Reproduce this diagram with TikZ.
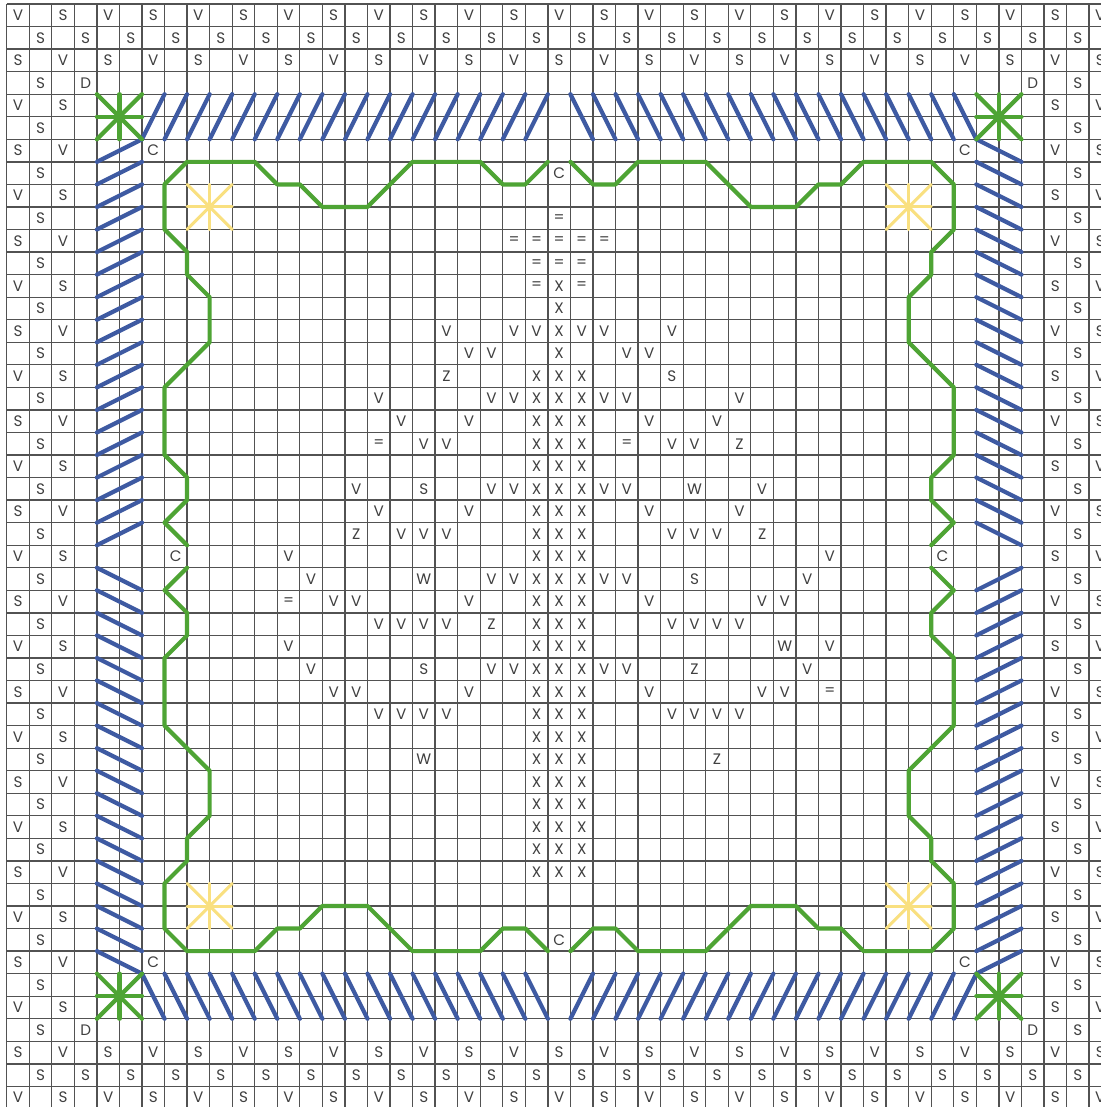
\documentclass[tikz,border=0pt]{standalone}
\usepackage{fontspec}
\setmainfont{Poppins}
\definecolor{stitchblue}{RGB}{62,90,162}
\definecolor{stitchgreen}{RGB}{78,164,52}
\definecolor{stitchyellow}{RGB}{249,224,128}
\newcommand{\sy}[3]{\node[sym] (s-#1-#2) at ({#1+0.5},{#2+0.5}) {#3};}
\newcommand{\quadpath}{\draw[greenst] (24,7) -- (23,8) -- (22,8) -- (21,7) -- (18,7) -- (16,9) -- (14,9) -- (13,8) -- (12,8) -- (11,7) -- (8,7) -- (7,8) -- (7,10) -- (8,11) -- (8,12) -- (9,13) -- (9,15) -- (7,17) -- (7,20) -- (8,21) -- (8,22) -- (7,23) -- (8,24);}
\begin{document}
\begin{tikzpicture}[x=11.275pt,y=-11.275pt,
  gridl/.style={draw=black!68, line width=0.65pt},
  bluest/.style={draw=stitchblue, line width=2.1pt, line cap=round},
  greenst/.style={draw=stitchgreen, line width=2.1pt, line cap=round, line join=round},
  yellowst/.style={draw=stitchyellow, line width=1.5pt, line cap=round},
  sym/.style={font=\fontsize{7.6}{8}\selectfont, text=black!75, inner sep=0pt, anchor=center}]
\useasboundingbox (-0.2971,-0.1774) rectangle (48.528,48.914);
\fill[white] (-0.2971,-0.1774) rectangle (48.528,48.914);
\begin{scope}
\clip (-0.2971,-0.1774) rectangle (48.528,48.914);
% grid
\foreach \i in {0,...,49} {
  \draw[gridl] (\i,0) -- (\i,49);
  \draw[gridl] (0,\i) -- (49,\i);
}
% blue border stitches
\foreach \k in {6,...,23} {
  \draw[bluest] (\k,6) -- (\k+1,4);
  \draw[bluest] (\k,43) -- (\k+1,45);
  \draw[bluest] (4,\k+1) -- (6,\k);
  \draw[bluest] (43,\k) -- (45,\k+1);
}
\foreach \k in {25,...,42} {
  \draw[bluest] (\k,4) -- (\k+1,6);
  \draw[bluest] (\k,45) -- (\k+1,43);
  \draw[bluest] (4,\k) -- (6,\k+1);
  \draw[bluest] (43,\k+1) -- (45,\k);
}
% green corner stars
\foreach \cx/\cy in {5/5,44/5,5/44,44/44} {
  \draw[greenst] (\cx-1,\cy) -- (\cx+1,\cy);
  \draw[greenst] (\cx,\cy-1) -- (\cx,\cy+1);
  \draw[greenst] (\cx-1,\cy-1) -- (\cx+1,\cy+1);
  \draw[greenst] (\cx-1,\cy+1) -- (\cx+1,\cy-1);
}
% yellow stars
\foreach \cx/\cy in {9/9,40/9,9/40,40/40} {
  \draw[yellowst] (\cx-1,\cy) -- (\cx+1,\cy);
  \draw[yellowst] (\cx,\cy-1) -- (\cx,\cy+1);
  \draw[yellowst] (\cx-1,\cy-1) -- (\cx+1,\cy+1);
  \draw[yellowst] (\cx-1,\cy+1) -- (\cx+1,\cy-1);
}
% green inner outline (four mirrored quarters)
\quadpath
\begin{scope}[shift={(49,0)},xscale=-1]\quadpath\end{scope}
\begin{scope}[shift={(0,49)},yscale=-1]\quadpath\end{scope}
\begin{scope}[shift={(49,49)},xscale=-1,yscale=-1]\quadpath\end{scope}
% outer letter border
\foreach \i in {0,4,...,48} { \sy{\i}{0}{V} \sy{\i}{48}{V} \sy{\i}{2}{S} \sy{\i}{46}{S} }
\foreach \i in {2,6,...,46} { \sy{\i}{0}{S} \sy{\i}{48}{S} \sy{\i}{2}{V} \sy{\i}{46}{V} }
\foreach \i in {1,3,...,47} { \sy{\i}{1}{S} \sy{\i}{47}{S} }
\foreach \i in {4,8,...,44} { \sy{0}{\i}{V} \sy{48}{\i}{V} \sy{2}{\i}{S} \sy{46}{\i}{S} }
\foreach \i in {6,10,...,42} { \sy{0}{\i}{S} \sy{48}{\i}{S} \sy{2}{\i}{V} \sy{46}{\i}{V} }
\foreach \i in {3,5,...,45} { \sy{1}{\i}{S} \sy{47}{\i}{S} }
% D and C marks
\foreach \c/\r in {3/3,45/3,3/45,45/45} { \sy{\c}{\r}{D} }
\foreach \c/\r in {6/6,42/6,24/7,7/24,41/24,24/41,6/42,42/42} { \sy{\c}{\r}{C} }
% central motif
\foreach \r in {16,...,38} { \foreach \c in {23,24,25} { \sy{\c}{\r}{X} } }
\foreach \c/\r/\t in {24/9/=, 22/10/=, 23/10/=, 24/10/=, 25/10/=, 26/10/=,
  23/11/=, 24/11/=, 25/11/=, 23/12/=, 24/12/X, 25/12/=, 24/13/X,
  19/14/V, 22/14/V, 23/14/V, 24/14/X, 25/14/V, 26/14/V, 29/14/V,
  20/15/V, 21/15/V, 24/15/X, 27/15/V, 28/15/V,
  19/16/Z, 29/16/S,
  16/17/V, 21/17/V, 22/17/V, 26/17/V, 27/17/V, 32/17/V,
  17/18/V, 20/18/V, 28/18/V, 31/18/V,
  16/19/=, 18/19/V, 19/19/V, 27/19/=, 29/19/V, 30/19/V, 32/19/Z,
  15/21/V, 18/21/S, 21/21/V, 22/21/V, 26/21/V, 27/21/V, 30/21/W, 33/21/V,
  16/22/V, 20/22/V, 28/22/V, 32/22/V,
  15/23/Z, 17/23/V, 18/23/V, 19/23/V, 29/23/V, 30/23/V, 31/23/V, 33/23/Z,
  12/24/V, 36/24/V,
  13/25/V, 18/25/W, 21/25/V, 22/25/V, 26/25/V, 27/25/V, 30/25/S, 35/25/V,
  12/26/=, 14/26/V, 15/26/V, 20/26/V, 28/26/V, 33/26/V, 34/26/V,
  16/27/V, 17/27/V, 18/27/V, 19/27/V, 21/27/Z, 29/27/V, 30/27/V, 31/27/V, 32/27/V,
  12/28/V, 34/28/W, 36/28/V,
  13/29/V, 18/29/S, 21/29/V, 22/29/V, 26/29/V, 27/29/V, 30/29/Z, 35/29/V,
  14/30/V, 15/30/V, 20/30/V, 28/30/V, 33/30/V, 34/30/V, 36/30/=,
  16/31/V, 17/31/V, 18/31/V, 19/31/V, 29/31/V, 30/31/V, 31/31/V, 32/31/V,
  18/33/W, 31/33/Z} { \sy{\c}{\r}{\t} }
\end{scope}
\end{tikzpicture}
\end{document}
